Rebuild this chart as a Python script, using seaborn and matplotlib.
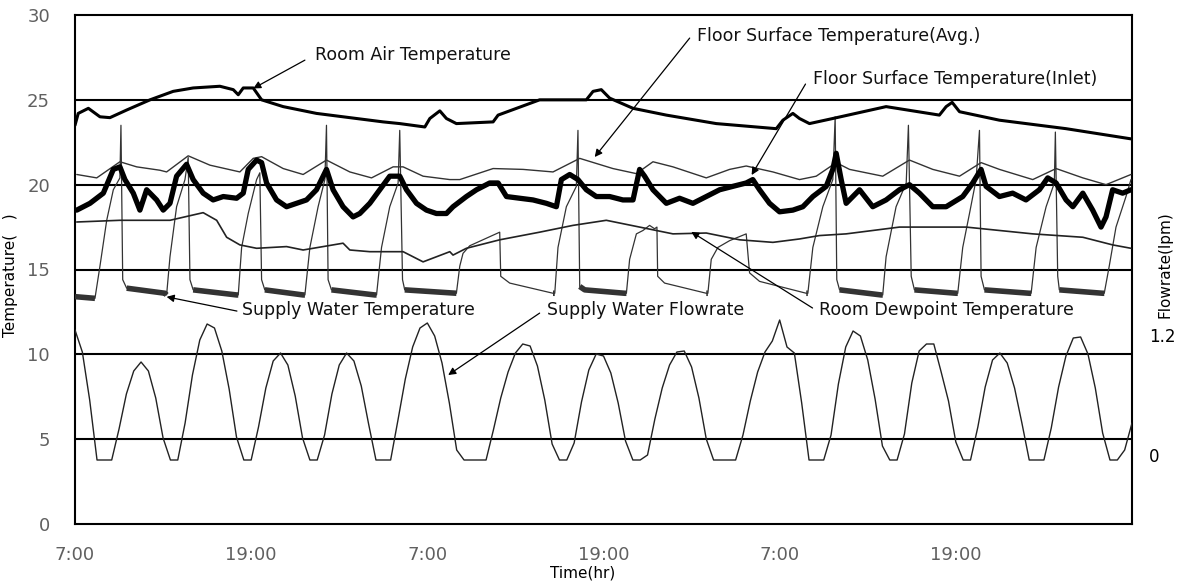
import numpy as np
import pandas as pd
import matplotlib
matplotlib.use("Agg")
import matplotlib.pyplot as plt
import seaborn as sns

# ---------------- data (hours from 7:00 of day 1) ----------------
x_tick_hours = [0, 12, 24, 36, 48, 60]
x_tick_labels = ["7:00", "19:00", "7:00", "19:00", "7:00", "19:00"]
y_ticks = [0, 5, 10, 15, 20, 25, 30]

# Room air temperature
rat_t = [0.0, 0.22, 0.91, 1.70, 2.38, 3.52, 5.11, 6.69, 8.05, 9.87, 10.78, 11.12, 11.46, 12.14,
         12.71, 14.18, 16.45, 18.72, 20.99, 22.12, 23.83, 24.17, 24.85, 25.30, 25.98, 28.48,
         28.82, 31.65, 34.83, 35.29, 35.85, 36.42, 38.01, 40.28, 43.68, 47.77, 48.22, 48.90,
         49.35, 50.03, 51.62, 55.25, 58.88, 59.34, 59.75, 60.25, 62.97, 67.51, 71.93]
rat_v = [23.5, 24.2, 24.5, 24.0, 23.95, 24.4, 25.0, 25.5, 25.7, 25.8, 25.6, 25.3, 25.7, 25.7,
         25.0, 24.6, 24.2, 23.95, 23.7, 23.6, 23.4, 23.9, 24.35, 23.9, 23.6, 23.7,
         24.1, 25.0, 25.0, 25.5, 25.6, 25.1, 24.5, 24.1, 23.6, 23.3, 23.8, 24.2,
         23.9, 23.6, 23.9, 24.6, 24.1, 24.6, 24.85, 24.3, 23.8, 23.3, 22.7]

# Floor surface temperature (average)
fsa_t = [0.12, 1.48, 3.06, 4.20, 5.79, 6.24, 7.71, 9.19, 11.23, 12.14, 12.71, 14.18, 15.54,
         17.13, 18.72, 20.20, 21.67, 22.35, 23.71, 25.53, 26.21, 28.48, 30.52, 32.56, 34.38,
         36.64, 38.24, 39.37, 40.73, 43.00, 44.59, 45.72, 47.54, 49.35, 50.49, 51.85, 52.76,
         55.02, 56.84, 58.43, 60.25, 61.72, 62.97, 65.24, 66.83, 68.65, 70.23, 71.93]
fsa_v = [20.6, 20.4, 21.35, 21.05, 20.85, 20.75, 21.7, 21.15, 20.75, 21.55, 21.65, 20.95, 20.6,
         21.45, 20.75, 20.4, 21.05, 21.05, 20.5, 20.3, 20.3, 20.95, 20.9, 20.75, 21.55,
         20.95, 20.65, 21.35, 21.05, 20.4, 20.9, 21.1, 20.75, 20.3, 20.5, 21.3, 20.9,
         20.5, 21.45, 20.9, 20.5, 21.3, 20.9, 20.3, 20.95, 20.4, 20.0, 20.6]

# Floor surface temperature (inlet)
fsi_t = [0.12, 1.02, 1.93, 2.61, 3.06, 3.40, 3.97, 4.42, 4.88, 5.56, 6.01, 6.47, 6.92, 7.60,
         8.05, 8.73, 9.41, 10.10, 11.01, 11.46, 11.80, 12.37, 12.71, 13.05, 13.73, 14.41,
         15.09, 15.77, 16.45, 17.13, 17.58, 18.26, 18.94, 19.40, 20.08, 20.76, 21.44, 22.12,
         22.58, 23.26, 23.94, 24.62, 25.30, 25.75, 26.66, 27.35, 28.25, 28.82, 29.39, 30.29,
         31.20, 32.11, 32.79, 33.13, 33.70, 34.26, 34.83, 35.51, 36.42, 37.32, 38.01, 38.46,
         38.80, 39.37, 40.28, 41.18, 42.09, 43.00, 43.91, 44.81, 45.72, 46.17, 46.63, 47.31,
         47.99, 48.90, 49.58, 50.26, 51.17, 51.62, 51.85, 52.19, 52.53, 53.44, 54.34, 55.25,
         56.16, 56.84, 57.52, 58.43, 59.34, 60.47, 61.15, 61.72, 62.06, 62.97, 63.87, 64.78,
         65.69, 66.26, 66.83, 67.51, 67.97, 68.65, 69.32, 69.89, 70.23, 70.68, 71.36, 71.93]
fsi_v = [18.5, 18.9, 19.5, 20.9, 21.05, 20.3, 19.5, 18.5, 19.7, 19.1, 18.5, 18.9, 20.5, 21.2,
         20.3, 19.5, 19.1, 19.3, 19.2, 19.5, 20.9, 21.45, 21.3, 20.1, 19.1, 18.7,
         18.9, 19.1, 19.7, 20.9, 19.7, 18.7, 18.1, 18.3, 18.9, 19.7, 20.5, 20.5,
         19.7, 18.9, 18.5, 18.3, 18.3, 18.7, 19.3, 19.7, 20.1, 20.1, 19.3, 19.2,
         19.1, 18.9, 18.7, 20.3, 20.6, 20.3, 19.7, 19.3, 19.3, 19.1, 19.1, 20.9,
         20.5, 19.7, 18.9, 19.2, 18.9, 19.3, 19.7, 19.9, 20.1, 20.3, 19.7, 18.9,
         18.4, 18.5, 18.7, 19.3, 19.9, 20.9, 21.85, 20.3, 18.9, 19.7, 18.7, 19.1,
         19.7, 20.0, 19.5, 18.7, 18.7, 19.3, 20.1, 20.9, 19.9, 19.3, 19.5, 19.1,
         19.7, 20.4, 20.1, 19.1, 18.7, 19.5, 18.5, 17.5, 18.1, 19.7, 19.5, 19.7]

# Room dewpoint temperature
rdt_t = [0.12, 3.06, 6.47, 8.73, 9.65, 10.33, 11.23, 12.37, 14.41, 15.54, 18.26, 18.72, 20.08,
         22.35, 23.71, 25.53, 25.75, 26.66, 28.93, 31.65, 33.92, 36.19, 38.46, 40.73, 43.00,
         45.27, 47.54, 49.35, 50.71, 52.53, 56.16, 60.70, 65.24, 68.65, 70.68, 71.93]
rdt_v = [17.8, 17.9, 17.9, 18.35, 17.9, 16.9, 16.45, 16.25, 16.35, 16.15, 16.55, 16.15, 16.05,
         16.05, 15.45, 16.05, 15.85, 16.25, 16.75, 17.2, 17.6, 17.9, 17.5, 17.1, 17.15,
         16.75, 16.6, 16.8, 17.0, 17.1, 17.5, 17.5, 17.1, 16.9, 16.45, 16.25]

# Supply water temperature
swt_t = [0.0, 1.36, 1.70, 2.16, 2.61, 3.06, 3.13, 3.25, 3.52, 6.13,
         6.24, 6.47, 6.92, 7.49, 7.71, 7.83, 8.05, 11.01,
         11.12, 11.35, 11.80, 12.37, 12.59, 12.71, 12.93, 15.54,
         15.66, 16.00, 16.56, 17.02, 17.13, 17.24, 17.47, 20.42,
         20.54, 20.88, 21.44, 22.01, 22.12, 22.31, 22.46, 25.98,
         26.21, 26.43, 26.89, 28.93, 29.00, 29.61, 32.56,
         32.68, 32.90, 33.47, 34.15, 34.26, 34.38, 34.72, 37.44,
         37.56, 37.78, 38.24, 38.69, 39.14, 39.48, 39.64, 39.69, 40.16, 43.00,
         43.11, 43.34, 43.79, 44.59, 45.72, 45.95, 46.63, 49.81,
         49.92, 50.26, 50.94, 51.62, 51.78, 51.89, 52.08, 54.92,
         55.02, 55.25, 55.93, 56.62, 56.77, 56.96, 57.18, 60.02,
         60.13, 60.47, 60.93, 61.38, 61.61, 61.72, 61.95, 65.01,
         65.13, 65.47, 66.15, 66.71, 66.78, 66.94, 67.05, 70.00,
         70.11, 70.45, 70.91, 71.59, 71.93]
swt_v = [13.4, 13.3, 15.2, 17.9, 19.7, 20.4, 23.5, 14.4, 13.9, 13.6,
         13.5, 15.75, 18.7, 20.3, 21.6, 14.4, 13.8, 13.5,
         13.5, 16.3, 18.3, 20.3, 20.7, 14.4, 13.8, 13.5,
         13.5, 16.3, 18.7, 20.3, 23.5, 14.4, 13.8, 13.5,
         13.5, 16.3, 18.7, 20.1, 23.2, 14.4, 13.8, 13.6,
         15.2, 15.95, 16.4, 17.2, 14.6, 14.2, 13.6,
         13.6, 16.3, 18.7, 19.9, 23.2, 14.0, 13.8, 13.6,
         13.6, 15.6, 17.1, 17.3, 17.6, 17.4, 17.5, 14.6, 14.2, 13.6,
         13.6, 15.6, 16.3, 16.7, 17.1, 14.8, 14.3, 13.6,
         13.6, 16.3, 18.7, 20.3, 24.0, 14.4, 13.8, 13.5,
         13.5, 15.75, 18.7, 20.1, 23.5, 14.6, 13.8, 13.6,
         13.6, 16.3, 18.3, 20.3, 23.2, 14.6, 13.8, 13.6,
         13.6, 16.3, 18.7, 20.1, 23.1, 14.6, 13.8, 13.6,
         13.6, 15.2, 17.5, 19.3, 20.3]

# Supply water flowrate (lpm), every 0.5 h from 0 to 72 h
flow_lpm = [1.25, 1.03, 0.55, -0.05, -0.05, -0.05, 0.26, 0.61, 0.84, 0.93,
            0.84, 0.57, 0.17, -0.05, -0.05, 0.32, 0.80, 1.15, 1.31, 1.27,
            1.04, 0.66, 0.18, -0.05, -0.05, 0.28, 0.67, 0.94, 1.02, 0.90,
            0.59, 0.17, -0.05, -0.05, 0.20, 0.61, 0.90, 1.02, 0.94, 0.69,
            0.31, -0.05, -0.05, -0.05, 0.35, 0.76, 1.08, 1.27, 1.32, 1.19,
            0.92, 0.52, 0.05, -0.05, -0.05, -0.05, -0.05, 0.25, 0.57, 0.83,
            1.02, 1.11, 1.09, 0.89, 0.55, 0.11, -0.05, -0.05, 0.12, 0.53,
            0.85, 1.01, 0.99, 0.82, 0.52, 0.14, -0.05, -0.05, 0.00, 0.36,
            0.67, 0.90, 1.03, 1.04, 0.88, 0.57, 0.16, -0.05, -0.05, -0.05,
            -0.05, 0.20, 0.54, 0.83, 1.03, 1.14, 1.35, 1.08, 1.02, 0.52,
            -0.05, -0.05, -0.05, 0.20, 0.71, 1.08, 1.24, 1.19, 0.95, 0.56,
            0.09, -0.05, -0.05, 0.21, 0.72, 1.04, 1.11, 1.11, 0.83, 0.54,
            0.13, -0.05, -0.05, 0.28, 0.68, 0.95, 1.02, 0.92, 0.67, 0.32,
            -0.05, -0.05, -0.05, 0.27, 0.68, 0.99, 1.17, 1.18, 1.01, 0.67,
            0.22, -0.05, -0.05, 0.05, 0.32]
flow_t = np.arange(len(flow_lpm)) * 0.5

flow_ticks = [0, 1.2]
flow_tick_labels = ["0", "1.2"]

# annotations: (label, text position, arrow start, arrow end)
annotations = [
    ("Room Air Temperature", (16.34, 27.64), (15.66, 27.34), (12.14, 25.67)),
    ("Floor Surface Temperature(Avg.)", (42.34, 28.76), (41.87, 28.64), (35.40, 21.63)),
    ("Floor Surface Temperature(Inlet)", (50.24, 26.22), (49.76, 25.93), (46.09, 20.57)),
    ("Supply Water Temperature", (11.37, 12.61), (11.03, 12.55), (6.24, 13.39)),
    ("Supply Water Flowrate", (32.13, 12.61), (31.65, 12.43), (25.42, 8.78)),
    ("Room Dewpoint Temperature", (50.71, 12.61), (50.24, 12.73), (41.98, 17.22)),
]

# ---------------- plotting ----------------
sns.set_theme(style="white")
plt.rcParams["font.family"] = ["DejaVu Sans"]

fig = plt.figure(figsize=(11.86, 5.88), dpi=100)
ax = fig.add_axes([75 / 1186, 64 / 588, 1057 / 1186, 509 / 588])

for yv in y_ticks[1:-1]:
    ax.axhline(yv, color="black", lw=1.5, zorder=1)

# supply water temperature: thin line plus the dense noisy band of the cold plateaus
sns.lineplot(x=swt_t, y=swt_v, ax=ax, color="#333333", lw=0.9, estimator=None, sort=False, zorder=3)
swt_plateau = [v if v <= 14.0 else np.nan for v in swt_v]
ax.plot(swt_t, swt_plateau, color="#333333", lw=4.0, solid_capstyle="butt", zorder=3)

sns.lineplot(x=rdt_t, y=rdt_v, ax=ax, color="#222222", lw=1.2, estimator=None, sort=False, zorder=3)
sns.lineplot(x=fsa_t, y=fsa_v, ax=ax, color="#333333", lw=1.0, estimator=None, sort=False, zorder=3)
sns.lineplot(x=fsi_t, y=fsi_v, ax=ax, color="black", lw=3.8, estimator=None, sort=False, zorder=4)
sns.lineplot(x=rat_t, y=rat_v, ax=ax, color="black", lw=2.2, estimator=None, sort=False, zorder=4)

ax.set_xlim(0, 72)
ax.set_ylim(0, 30)
ax.set_yticks(y_ticks)
ax.set_yticklabels([str(v) for v in y_ticks])
ax.set_xticks(x_tick_hours)
ax.set_xticklabels(x_tick_labels)
ax.tick_params(axis="x", direction="in", length=5, width=1.5, color="black",
               pad=16, labelsize=13, labelcolor="#606060")
ax.tick_params(axis="y", length=0, pad=18, labelsize=13, labelcolor="#606060")
for s in ax.spines.values():
    s.set_visible(True)
    s.set_color("black")
    s.set_linewidth(1.5)

ax.set_xlabel("Time(hr)", fontsize=11, color="black")
ax.xaxis.set_label_coords((583 - 75) / 1057, -(566 - 524) / 509)
ax.set_ylabel("Temperature(   )", fontsize=11, color="black")
ax.yaxis.set_label_coords(-(57) / 1057, (524 - 275) / 509)

# flowrate on secondary axis
ax2 = ax.twinx()
sns.lineplot(x=flow_t, y=flow_lpm, ax=ax2, color="#222222", lw=1.0, estimator=None, sort=False)
ax2.set_ylim(-0.69, 4.40)
ax2.set_yticks(flow_ticks)
ax2.set_yticklabels(flow_tick_labels)
ax2.tick_params(axis="y", length=0, pad=12, labelsize=12, labelcolor="black")
ax2.set_ylabel("Flowrate(lpm)", fontsize=11, color="black")
ax2.yaxis.set_label_coords((1158 - 75) / 1057, (524 - 265) / 509)
for s in ax2.spines.values():
    s.set_visible(False)

for label, tpos, a0, a1 in annotations:
    ax.text(tpos[0], tpos[1], label, ha="left", va="center", fontsize=12.5, color="#111111", zorder=6)
    ax.annotate("", xy=a1, xytext=a0,
                arrowprops=dict(arrowstyle="-|>", color="black", lw=0.9, mutation_scale=11,
                                shrinkA=0, shrinkB=0), zorder=6)

fig.savefig("out.png", dpi=100)
